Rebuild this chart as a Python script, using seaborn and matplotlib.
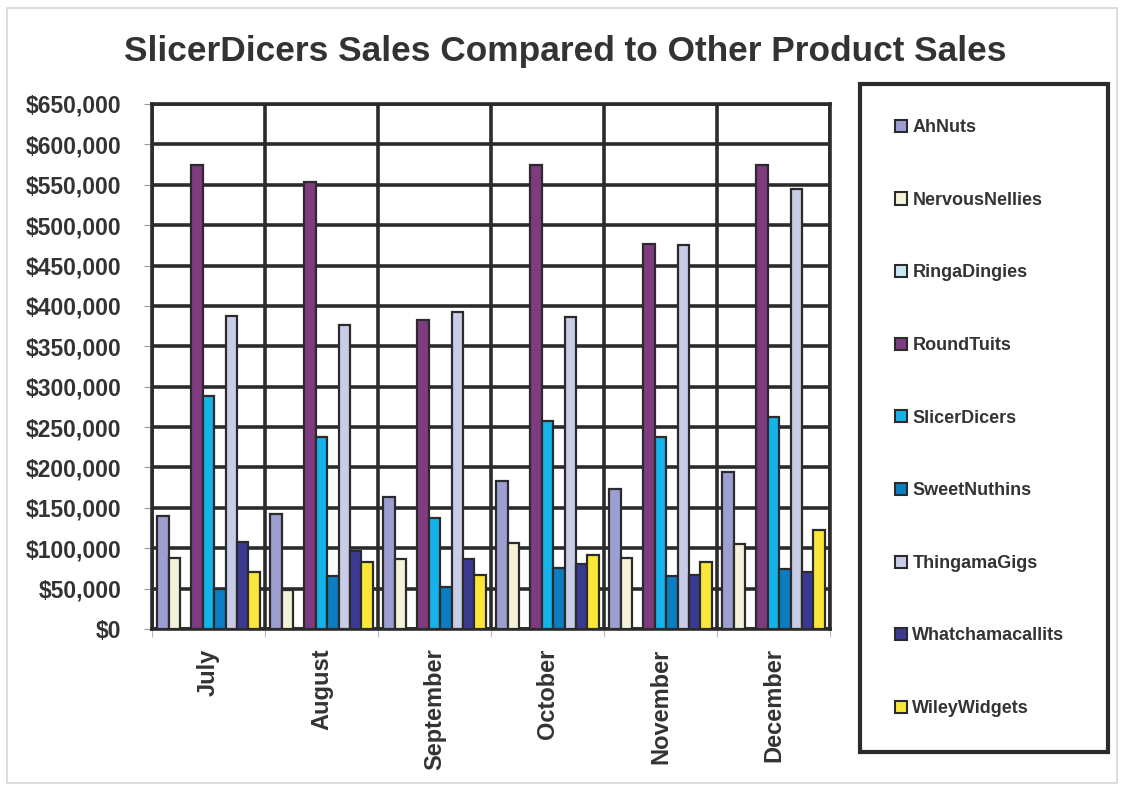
import matplotlib
matplotlib.use("Agg")
import matplotlib.pyplot as plt
import matplotlib.patches as mpatches
from matplotlib.ticker import FuncFormatter, MultipleLocator, FixedLocator
import seaborn as sns
import pandas as pd

months = ["July", "August", "September", "October", "November", "December"]
products = ["AhNuts", "NervousNellies", "RingaDingies", "RoundTuits", "SlicerDicers",
            "SweetNuthins", "ThingamaGigs", "Whatchamacallits", "WileyWidgets"]

ahnuts = [140000, 142000, 163000, 183000, 173000, 194000]
nervous_nellies = [88000, 48000, 87000, 106000, 88000, 105000]
ringa_dingies = [0, 0, 0, 0, 0, 0]
round_tuits = [575000, 553000, 383000, 575000, 477000, 575000]
slicer_dicers = [288000, 238000, 138000, 258000, 238000, 263000]
sweet_nuthins = [50000, 66000, 52000, 75000, 66000, 74000]
thingama_gigs = [387000, 376000, 392000, 386000, 475000, 545000]
whatchamacallits = [108000, 96000, 87000, 81000, 67000, 71000]
wiley_widgets = [70000, 83000, 67000, 92000, 83000, 122000]

colors = ["#9C9FD0", "#F4F2D8", "#C8E9F3", "#7E3B80", "#14B4EA",
          "#0B7DC1", "#C8CCE7", "#3B3A92", "#FBE73A"]

series = [ahnuts, nervous_nellies, ringa_dingies, round_tuits, slicer_dicers,
          sweet_nuthins, thingama_gigs, whatchamacallits, wiley_widgets]
rows = []
for p, vals in zip(products, series):
    for m, v in zip(months, vals):
        rows.append({"Month": m, "Product": p, "Sales": v})
df = pd.DataFrame(rows)

sns.set_theme(style="white")
plt.rcParams["font.family"] = ["Liberation Sans", "DejaVu Sans"]

fig = plt.figure(figsize=(11.24, 7.88), dpi=100)
ax = fig.add_axes([152/1124, 1-629/788, (830-152)/1124, (629-104)/788])

dark = "#2b2b2b"
sns.barplot(data=df, x="Month", y="Sales", hue="Product", order=months,
            hue_order=products, palette=colors, width=0.91, ax=ax,
            edgecolor=dark, linewidth=1.6, saturation=1, errorbar=None,
            legend=False, zorder=3)

ax.set_ylim(0, 650000)
ax.set_xlim(-0.5, len(months) - 0.5)
ax.yaxis.set_major_locator(MultipleLocator(50000))
ax.yaxis.set_major_formatter(FuncFormatter(lambda v, p: f"${v:,.0f}"))
ax.xaxis.set_minor_locator(FixedLocator([i - 0.5 for i in range(len(months) + 1)]))
ax.grid(axis="y", which="major", color=dark, linewidth=2.6, zorder=0)
ax.grid(axis="x", which="minor", color=dark, linewidth=2.6, zorder=0)
ax.grid(axis="x", which="major", visible=False)
ax.set_axisbelow(True)
for s in ax.spines.values():
    s.set_color(dark)
    s.set_linewidth(2.6)

ax.set_xlabel("")
ax.set_ylabel("")
ax.tick_params(axis="y", which="major", length=6, width=0.8, color="#999999",
               labelsize=16.5, labelcolor="#333333", pad=16, left=True)
ax.tick_params(axis="x", which="major", length=0, labelsize=17,
               labelcolor="#333333", pad=14, rotation=90)
ax.tick_params(axis="x", which="minor", length=6, width=0.8, color="#bbbbbb",
               bottom=True)
for lbl in ax.get_yticklabels() + ax.get_xticklabels():
    lbl.set_fontweight("bold")

fig.text(0.5027, 1 - 51/788, "SlicerDicers Sales Compared to Other Product Sales",
         ha="center", va="center", fontsize=25.4, fontweight="bold", color="#333333")

handles = [mpatches.Patch(facecolor=c, edgecolor=dark, linewidth=1.5, label=p)
           for c, p in zip(colors, products)]
leg = fig.legend(handles=handles, loc="upper left",
                 bbox_to_anchor=(860/1124, 1 - 84/788, (1108-860)/1124, 0),
                 mode="expand", frameon=True, fancybox=False, framealpha=1,
                 prop={"weight": "bold", "size": 13}, labelcolor="#333333",
                 handlelength=0.65, handleheight=0.65, handletextpad=0.3,
                 labelspacing=3.08, borderpad=1.95, borderaxespad=0)
fr = leg.get_frame()
fr.set_edgecolor(dark)
fr.set_linewidth(3)
fr.set_alpha(1)

fig.patches.append(mpatches.Rectangle((7/1124, 5/788), 1110/1124, 775/788,
                                      transform=fig.transFigure, fill=False,
                                      edgecolor="#d6d6d6", linewidth=1.2))

fig.savefig("out.png", dpi=100)
